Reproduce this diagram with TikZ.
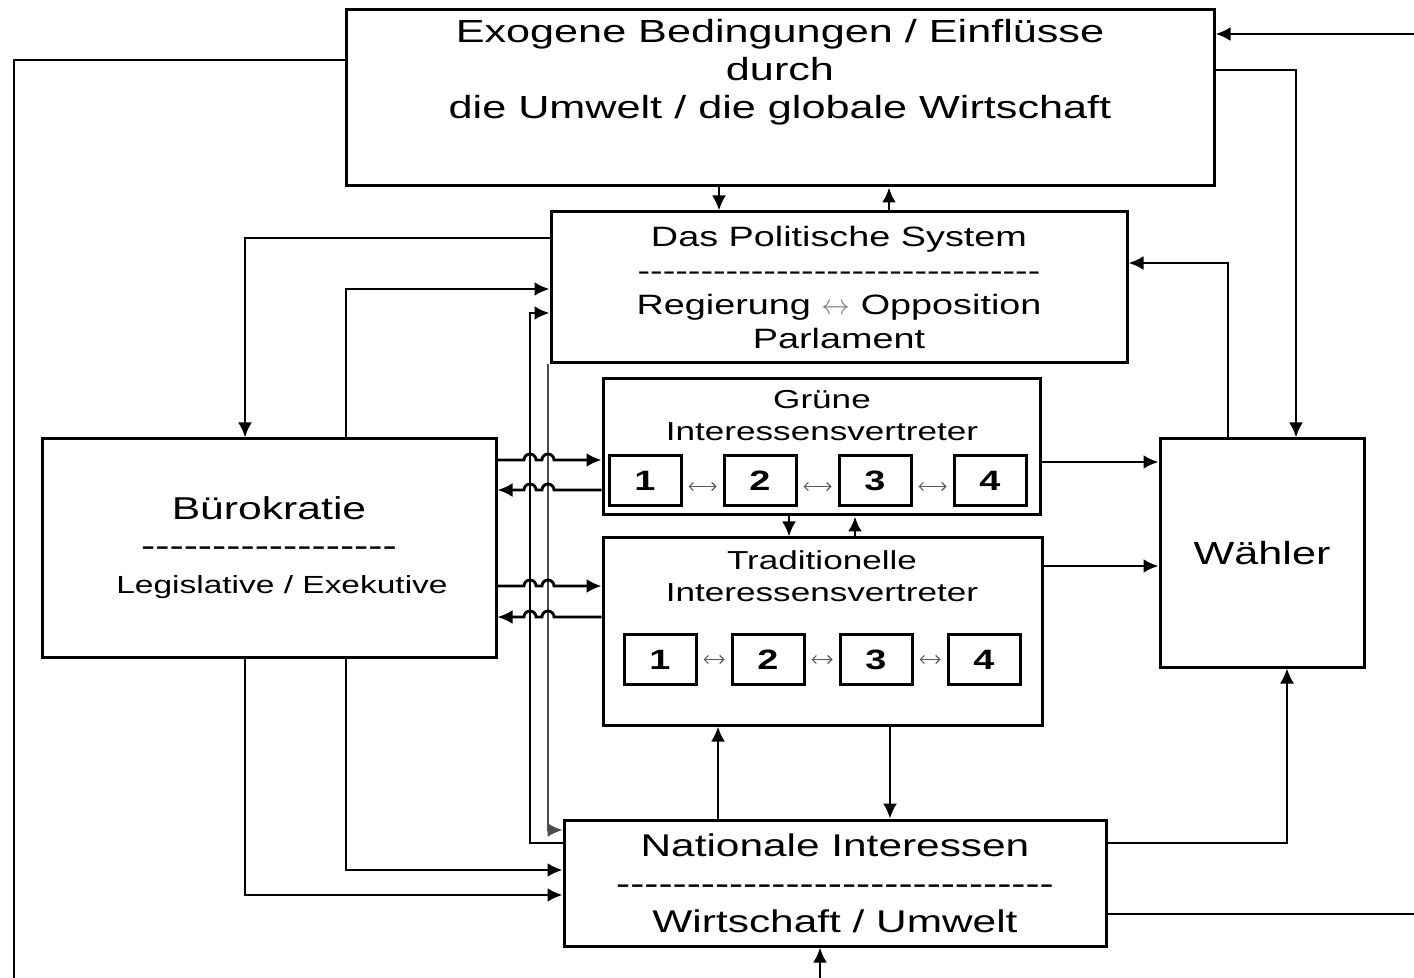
\documentclass[tikz,border=0pt]{standalone}
\usepackage{fontspec}
\setmainfont{Liberation Sans}[FakeStretch=1.35]
\usetikzlibrary{arrows.meta,positioning}

\newcommand\dashes[1]{\foreach\k in {1,...,#1}{-\kern0pt}}

\begin{document}
\begin{tikzpicture}[x=0.5pt,y=-0.5pt]
	\tikzstyle{box}
	  =[draw, line width=1.5pt, rectangle, align=center, inner sep=0pt]
	\tikzstyle{num}
	  =[draw, line width=1.5pt, rectangle, minimum width=36pt,
	  minimum height=25pt, inner sep=0pt, font=\bfseries\fontsize{14}{16}\selectfont]
	\tikzstyle{conn}
	  =[line width=1.4pt, -{Latex[length=7.5pt,width=7pt]}]
	\tikzstyle{pair}
	  =[{Straight Barb[length=2pt,width=4pt]}-{Straight Barb[length=2pt,width=4pt]},
	  line width=0.6pt, gray!70!black, shorten <=3pt, shorten >=3pt]

	\useasboundingbox (0,0) rectangle (1414,978);

	% boxes
	\node[box, minimum width=434pt, minimum height=88pt] (exo)
	  at (780,98) {};
	\node[align=center, font=\fontsize{16}{19}\selectfont] (exotxt)
	  at (780,72) {Exogene Bedingungen / Einflüsse\\durch\\die Umwelt / die globale Wirtschaft};
	\node[box, minimum width=288pt, minimum height=75.5pt,
	  font=\fontsize{14}{17}\selectfont] (pol)
	  at (839,287.5) {Das Politische System\\\dashes{32}\\Regierung {\color{gray}$\leftrightarrow$} Opposition\\Parlament};
	\node[box, minimum width=218.5pt, minimum height=68pt] (gru)
	  at (821.5,447) {};
	\node[align=center, font=\fontsize{13}{16}\selectfont] (grutxt)
	  at (822,416) {Grüne\\Interessensvertreter};
	\node[box, minimum width=219.5pt, minimum height=93.5pt] (tra)
	  at (822.5,631.5) {};
	\node[align=center, font=\fontsize{13}{16}\selectfont] (tratxt)
	  at (822,576) {Traditionelle\\Interessensvertreter};
	\node[box, minimum width=227pt, minimum height=109pt,
	  font=\fontsize{15.8}{18.5}\selectfont] (bur)
	  at (269,548) {Bürokratie\\\dashes{18}\\\hspace*{13pt}{\fontsize{12.4}{17}\selectfont Legislative / Exekutive}};
	\node[box, minimum width=102pt, minimum height=114pt,
	  font=\fontsize{16}{19}\selectfont] (wah)
	  at (1262,553) {Wähler};
	\node[box, minimum width=271pt, minimum height=63pt,
	  font=\fontsize{15.7}{19}\selectfont] (nat)
	  at (835,883) {Nationale Interessen\\\dashes{31}\\Wirtschaft / Umwelt};

	% numbered groups
	\node[num] (g1) at (645,480.5) {1};
	\node[num] (g2) [right=20pt of g1] {2};
	\node[num] (g3) [right=20pt of g2] {3};
	\node[num] (g4) [right=20pt of g3] {4};
	\node[num] (t1) at (660,659.5) {1};
	\node[num] (t2) [right=16.5pt of t1] {2};
	\node[num] (t3) [right=16.5pt of t2] {3};
	\node[num] (t4) [right=16.5pt of t3] {4};

	\draw[pair] ([yshift=-3pt]g1.east) -- ([yshift=-3pt]g2.west);
	\draw[pair] ([yshift=-3pt]g2.east) -- ([yshift=-3pt]g3.west);
	\draw[pair] ([yshift=-3pt]g3.east) -- ([yshift=-3pt]g4.west);
	\draw[pair] (t1.east) -- (t2.west);
	\draw[pair] (t2.east) -- (t3.west);
	\draw[pair] (t3.east) -- (t4.west);

	% free ends at the border
	\coordinate (lb) at (14,990);
	\coordinate (rt) at (1420,34);
	\coordinate (rb) at (1420,914);
	\coordinate (bt) at (820,990);

	% connectors
	\draw[line width=1.4pt] (exo.west |- 0,60) -| (lb);
	\draw[conn] (rt) -- (exo.east |- rt);
	\draw[line width=1.4pt] (nat.east |- 0,914) -- (rb);
	\draw[conn] (bt) -- (nat.south -| bt);
	\draw[conn] (exo.east |- 0,70) -| (wah.north -| 1296,0);
	\draw[conn] (wah.north -| 1228,0) |- (pol.east |- 0,263);
	\draw[conn] (exo.south -| 719,0) -- (pol.north -| 719,0);
	\draw[conn] (pol.north -| 889,0) -- (exo.south -| 889,0);
	\draw[conn] (pol.west |- 0,238) -| (bur.north -| 245,0);
	\draw[conn] (bur.north -| 346,0) |- (pol.west |- 0,289);
	\draw[conn] (nat.west |- 0,843) -| (530,313) -- (pol.west |- 0,313);
	\draw[conn, line width=1pt, gray!60!black] (pol.south -| 548,0) |- (nat.west |- 0,830);
	\draw[conn] (bur.south -| 346,0) |- (nat.west |- 0,870);
	\draw[conn] (bur.south -| 245,0) |- (nat.west |- 0,895);

	\draw[conn] (bur.east |- 0,460) -- (524,460) arc[start angle=180,end angle=0,radius=3pt]
	  -- (542,460) arc[start angle=180,end angle=0,radius=3pt] -- (gru.west |- 0,460);
	\draw[conn] (gru.west |- 0,490) -- (554,490) arc[start angle=0,end angle=180,radius=3pt]
	  -- (536,490) arc[start angle=0,end angle=180,radius=3pt] -- (bur.east |- 0,490);
	\draw[conn] (bur.east |- 0,586) -- (524,586) arc[start angle=180,end angle=0,radius=3pt]
	  -- (542,586) arc[start angle=180,end angle=0,radius=3pt] -- (tra.west |- 0,586);
	\draw[conn] (tra.west |- 0,617) -- (554,617) arc[start angle=0,end angle=180,radius=3pt]
	  -- (536,617) arc[start angle=0,end angle=180,radius=3pt] -- (bur.east |- 0,617);

	\draw[conn] (gru.south -| 789,0) -- (tra.north -| 789,0);
	\draw[conn] (tra.north -| 855,0) -- (gru.south -| 855,0);
	\draw[conn] (gru.east |- 0,462) -- (wah.west |- 0,462);
	\draw[conn] (tra.east |- 0,566) -- (wah.west |- 0,566);
	\draw[conn] (nat.north -| 718,0) -- (tra.south -| 718,0);
	\draw[conn, line width=1pt] (tra.south -| 890,0) -- (nat.north -| 890,0);
	\draw[conn, line width=1pt] (nat.east |- 0,843) -| (wah.south -| 1287,0);
\end{tikzpicture}
\end{document}
